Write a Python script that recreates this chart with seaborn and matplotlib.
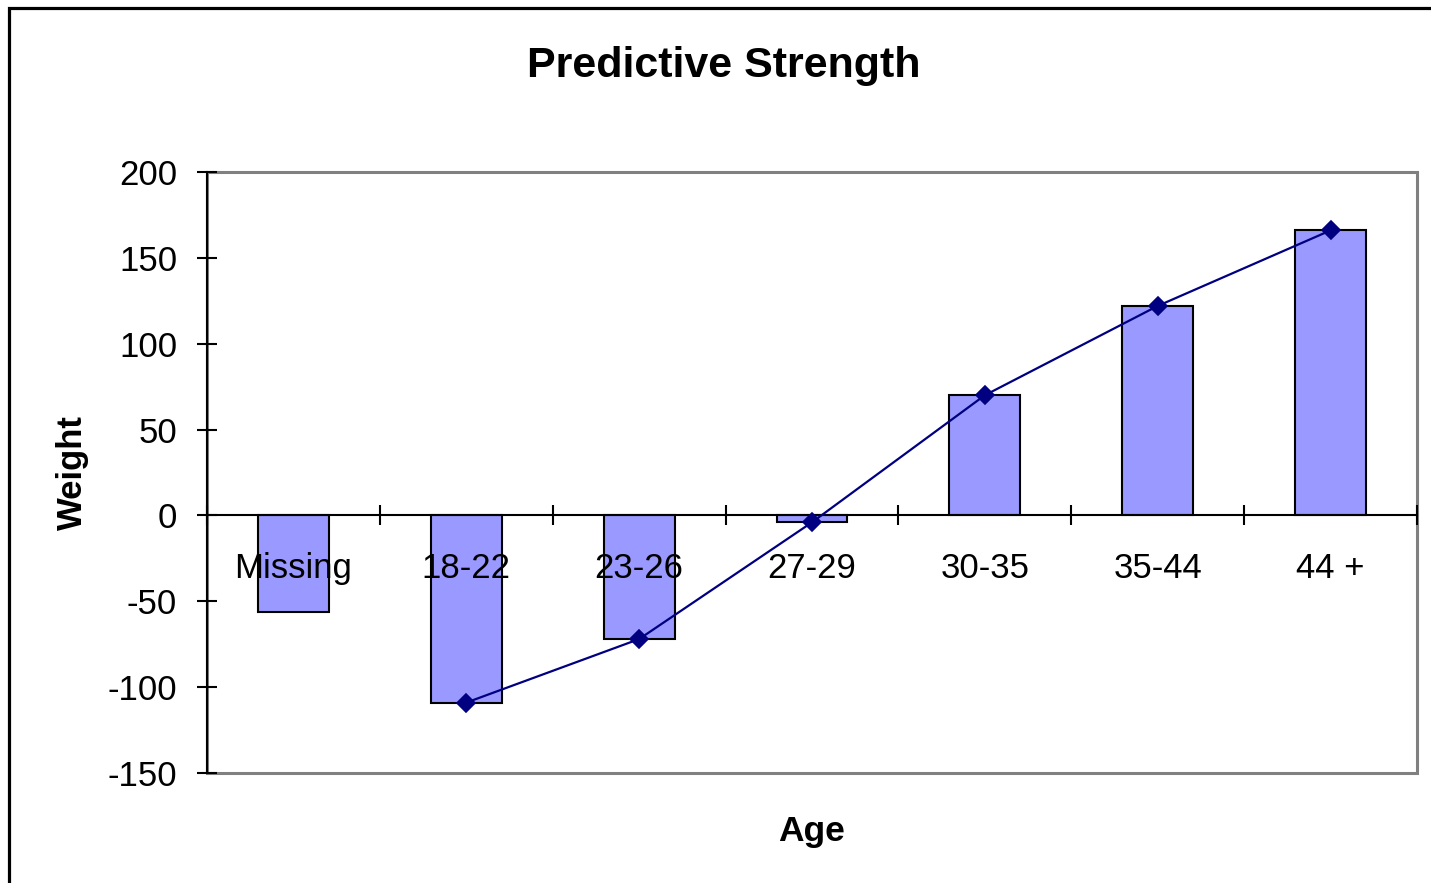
import matplotlib
matplotlib.use("Agg")
import matplotlib.pyplot as plt
import numpy as np
import pandas as pd
import seaborn as sns
from matplotlib.patches import Rectangle

# data
age_groups = ["Missing", "18-22", "23-26", "27-29", "30-35", "35-44", "44 +"]
bar_weights = [-56, -109, -72, -4, 70, 122, 166]
line_weights = [np.nan, -109, -72, -4, 70, 122, 166]
y_ticks = [-150, -100, -50, 0, 50, 100, 150, 200]
y_tick_labels = ["-150", "-100", "-50", "0", "50", "100", "150", "200"]


def main():
    sns.set_style("white")
    plt.rcParams["font.family"] = ["Liberation Sans", "DejaVu Sans"]
    plt.rcParams["axes.unicode_minus"] = False
    plt.rcParams["text.color"] = "black"
    plt.rcParams["xtick.color"] = "black"
    plt.rcParams["ytick.color"] = "black"
    plt.rcParams["axes.labelcolor"] = "black"

    df = pd.DataFrame({"age": age_groups, "bar": bar_weights, "line": line_weights})

    fig = plt.figure(figsize=(14.31, 8.83), dpi=100)
    ax = fig.add_axes([207 / 1431, 1 - 773 / 883, 1210 / 1431, 601 / 883])

    sns.barplot(data=df, x="age", y="bar", order=age_groups, color="#9999FF",
                saturation=1, width=0.41, edgecolor="black", linewidth=1.5, ax=ax,
                zorder=2)
    sns.pointplot(data=df, x="age", y="line", order=age_groups, color="#000080",
                  markers="D", markersize=9.5, linewidth=1.6, errorbar=None, ax=ax,
                  zorder=8)

    ax.set_xlim(-0.5, len(age_groups) - 0.5)
    ax.set_ylim(-150, 200)

    # plot area border in grey, axis lines in black
    for side in ["top", "right", "bottom", "left"]:
        ax.spines[side].set_visible(False)
    ax.add_patch(Rectangle((0, 0), 1, 1, transform=ax.transAxes, fill=False,
                           edgecolor="#808080", linewidth=2.2, zorder=0, clip_on=False))
    ax.spines["left"].set_visible(True)
    ax.spines["left"].set_color("black")
    ax.spines["left"].set_linewidth(1.5)
    ax.spines["left"].set_zorder(5)
    ax.spines["bottom"].set_visible(True)
    ax.spines["bottom"].set_position(("data", 0))
    ax.spines["bottom"].set_color("black")
    ax.spines["bottom"].set_linewidth(1.5)
    ax.spines["bottom"].set_zorder(5)
    ax.xaxis.set_zorder(6)
    ax.yaxis.set_zorder(6)

    ax.set_yticks(y_ticks, y_tick_labels)
    ax.tick_params(axis="y", direction="inout", length=15, width=1.5, color="black",
                   labelsize=25, pad=14, left=True)

    ax.set_xticks(range(len(age_groups)), age_groups)
    ax.set_xticks(np.arange(len(age_groups) + 1) - 0.5, minor=True)
    ax.tick_params(axis="x", which="major", length=0, labelsize=25, pad=26)
    ax.tick_params(axis="x", which="minor", direction="inout", length=15, width=1.5,
                   color="black", bottom=True)

    ax.set_xlabel("Age", fontsize=25.5, fontweight="bold", va="center")
    ax.xaxis.set_label_coords(0.5, (773 - 831) / 601)
    ax.set_ylabel("Weight", fontsize=25, fontweight="bold", va="center")
    ax.yaxis.set_label_coords((72 - 207) / 1210, 0.5)

    fig.text(724 / 1431, 1 - 66 / 883, "Predictive Strength", fontsize=31,
             fontweight="bold", ha="center", va="center")

    # outer chart border (left and top edges visible)
    fig.patches.append(Rectangle((9 / 1431, -0.2), 1.2, 1.2 - 8 / 883,
                                 transform=fig.transFigure, fill=False,
                                 edgecolor="black", linewidth=2.3))

    fig.savefig("out.png", dpi=100)


if __name__ == "__main__":
    main()
